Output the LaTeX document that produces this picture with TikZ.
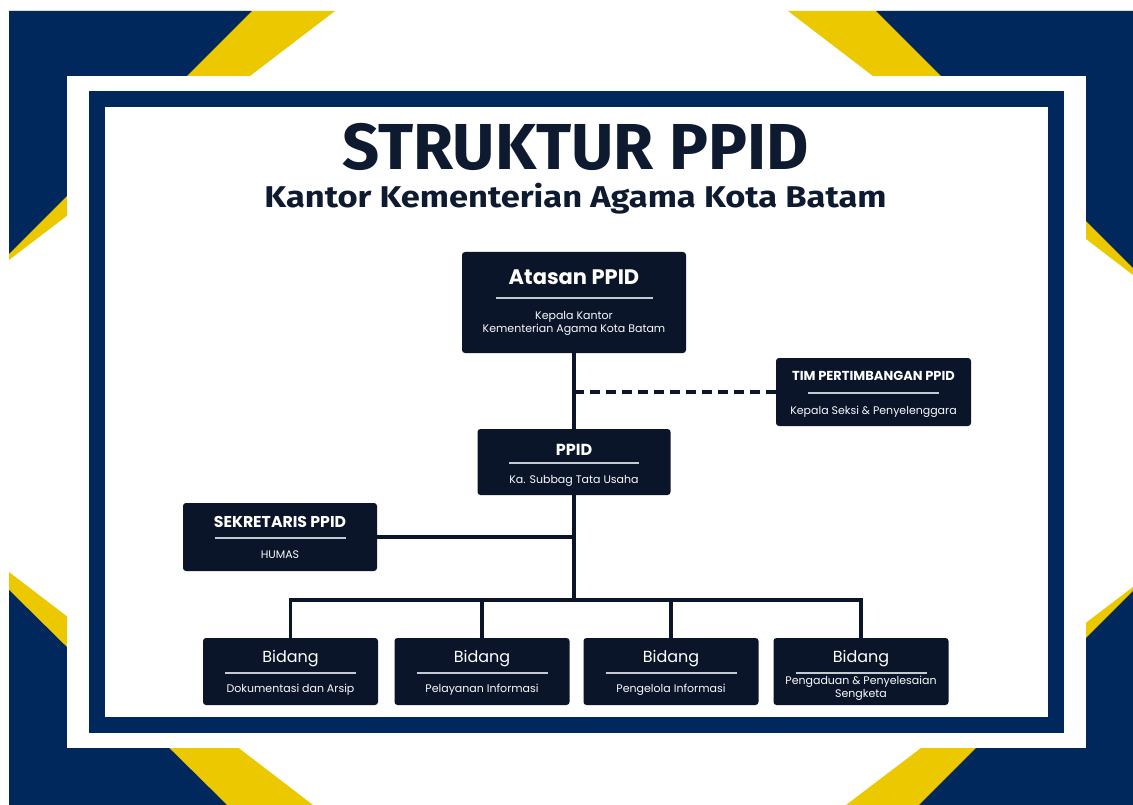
\documentclass[tikz,border=0pt]{standalone}
\usepackage{fontspec}
\setmainfont{Poppins}
\newfontfamily\titlefont{Fira Sans}
\newfontfamily\subtitlefont{Fira Sans}[FakeStretch=1.15]
\usetikzlibrary{calc}
\definecolor{framenavy}{RGB}{0,40,92}
\definecolor{stripeyellow}{RGB}{236,200,0}
\definecolor{boxnavy}{RGB}{10,21,42}
\definecolor{inktext}{RGB}{14,26,48}
\definecolor{rulegray}{RGB}{196,202,212}
\newcommand{\fsz}[2]{\fontsize{#1}{#2}\selectfont}

\begin{document}
\begin{tikzpicture}[x=1pt, y=-1pt,
    unit/.style={fill=boxnavy, rounded corners=3pt, inner sep=0pt},
    head/.style={anchor=base, text=white, inner sep=0pt, font=\bfseries\fsz{#1}{#1}},
    bidhead/.style={anchor=base, text=white, inner sep=0pt, font=\fsz{16}{16}},
    sub/.style={anchor=base, text=white!90!rulegray, inner sep=0pt, align=center, font=\fsz{#1}{12.5}},
    divider/.style={rulegray, line width=1.3pt},
    link/.style={boxnavy, line width=3.5pt},
]
    % canvas
    \fill[white] (0,0) rectangle (1133,805);
    \useasboundingbox (0,0) rectangle (1133,805);

    % corner stripes
    \fill[stripeyellow] (9,11) -- (335,11) -- (9,260) -- cycle;
    \fill[framenavy] (9,11) -- (252,11) -- (9,254) -- cycle;
    \fill[stripeyellow] (1133,11) -- (788,11) -- (1133,275) -- cycle;
    \fill[framenavy] (1133,11) -- (876,11) -- (1133,268) -- cycle;
    \fill[stripeyellow] (9,805) -- (313,805) -- (9,572) -- cycle;
    \fill[framenavy] (9,805) -- (227,805) -- (9,590) -- cycle;
    \fill[stripeyellow] (1133,805) -- (846,805) -- (1133,587) -- cycle;
    \fill[framenavy] (1133,805) -- (919,805) -- (1133,591) -- cycle;

    % frame
    \fill[white] (67,76) rectangle (1086,748);
    \fill[framenavy] (89,91) rectangle (1064,733);
    \fill[white] (105,107) rectangle (1048,717);

    % title
    \node[anchor=base, text=inktext, inner sep=0pt, font=\titlefont\bfseries\fsz{65}{65}] (title) at (575.5,170) {STRUKTUR PPID};
    \node[anchor=base, text=inktext, inner sep=0pt, font=\subtitlefont\bfseries\fsz{30}{30}] (subtitle) at (575.5,208) {Kantor Kementerian Agama Kota Batam};

    % Atasan PPID
    \node[unit, minimum width=224, minimum height=101] (atasan) at (574,302.5) {};
    \node[head=21] at (574,284) {Atasan PPID};
    \draw[divider] ($(atasan)+(-78.5,-4.5)$) -- ++(157,0);
    \node[sub=11] at (574,332) {Kepala Kantor\\Kementerian Agama Kota Batam};

    % Tim pertimbangan
    \node[unit, minimum width=195, minimum height=68] (tim) at (873.5,392) {};
    \node[head=13] at (873.5,380) {TIM PERTIMBANGAN PPID};
    \draw[divider] ($(tim)+(-65.5,1)$) -- ++(131,0);
    \node[sub=11] at (873.5,414) {Kepala Seksi \& Penyelenggara};

    % PPID
    \node[unit, minimum width=193, minimum height=66] (ppid) at (574,462) {};
    \node[head=16] at (574,455) {PPID};
    \draw[divider] ($(ppid)+(-65,1)$) -- ++(130,0);
    \node[sub=11] at (574,483) {Ka. Subbag Tata Usaha};

    % Sekretaris
    \node[unit, minimum width=194, minimum height=68] (sekretaris) at (280,537) {};
    \node[head=15.7] at (280,527) {SEKRETARIS PPID};
    \draw[divider] ($(sekretaris)+(-65.5,1)$) -- ++(131,0);
    \node[sub=11] at (280,558) {HUMAS};

    % Bidang
    \foreach \bx/\bname/\by/\bsub in {290.5/dok/692/{Dokumentasi dan Arsip},
            482/lay/692/{Pelayanan Informasi},
            671/kelola/692/{Pengelola Informasi},
            861/aduan/697/{Pengaduan \& Penyelesaian\\Sengketa}}{
        \node[unit, minimum width=175, minimum height=67] (\bname) at (\bx,671.5) {};
        \node[bidhead] at (\bx,662) {Bidang};
        \draw[divider] ($(\bname)+(-65.5,1.5)$) -- ++(131,0);
        \node[sub=11] at (\bx,\by) {\bsub};
    }

    % connectors
    \coordinate (hub) at (574,600);
    \draw[link] (atasan.south) -- (ppid.north);
    \draw[link, dash pattern=on 10pt off 6pt] (atasan.south |- tim.west) -- (tim.west);
    \draw[link] (ppid.south) -- (hub);
    \draw[link] (sekretaris.east) -- (sekretaris.east -| hub);
    \draw[link] (dok.north) |- (hub) -| (aduan.north);
    \draw[link] (lay.north) -- (lay.north |- hub);
    \draw[link] (kelola.north) -- (kelola.north |- hub);
\end{tikzpicture}
\end{document}
